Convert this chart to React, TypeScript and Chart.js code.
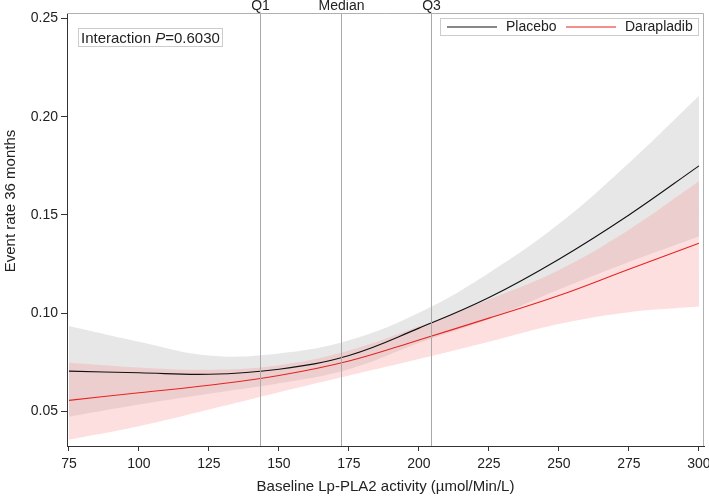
import React, { useEffect, useRef } from "react";
import { Chart, registerables } from "chart.js";

Chart.register(...registerables);

// ---- data ----
const xValues = [75, 100, 125, 150, 175, 200, 225, 250, 275, 300];
const placeboRate = [0.0705, 0.0697, 0.0689, 0.0715, 0.0785, 0.0924, 0.108, 0.1275, 0.15, 0.175];
const placeboUpper = [0.0935, 0.0855, 0.0785, 0.0795, 0.0862, 0.1002, 0.1205, 0.1455, 0.1765, 0.2107];
const placeboLower = [0.0473, 0.0535, 0.059, 0.0643, 0.0715, 0.0848, 0.097, 0.112, 0.126, 0.139];
const daraRate = [0.0556, 0.0595, 0.0633, 0.0683, 0.0757, 0.0864, 0.0975, 0.109, 0.1224, 0.1356];
const daraUpper = [0.0748, 0.0724, 0.0712, 0.0735, 0.081, 0.0933, 0.107, 0.122, 0.1425, 0.1671];
const daraLower = [0.0357, 0.0425, 0.051, 0.0598, 0.0683, 0.0767, 0.0855, 0.0945, 0.1005, 0.1034];

const quartileValues = [143.2, 172.3, 204.2];
const quartileLabels = ["Q1", "Median", "Q3"];

const xTicks = [75, 100, 125, 150, 175, 200, 225, 250, 275, 300];
const yTicks = [0.05, 0.1, 0.15, 0.2, 0.25];

const seriesNames = ["Placebo", "Darapladib"];
const interactionP = "0.6030";

const FONT = "'Liberation Sans', Arial, Helvetica, sans-serif";

const toPts = (ys: number[]) => xValues.map((x, i) => ({ x, y: ys[i] }));

const overlayPlugin = {
  id: "overlay",
  afterDatasetsDraw(chart: any) {
    const { ctx, chartArea: a, scales } = chart;
    const x = scales.x;
    ctx.save();
    // quartile lines + labels
    ctx.strokeStyle = "#a8a8a8";
    ctx.lineWidth = 1;
    ctx.fillStyle = "#222";
    ctx.font = `14px ${FONT}`;
    ctx.textAlign = "center";
    ctx.textBaseline = "alphabetic";
    quartileValues.forEach((v, i) => {
      const px = Math.round(x.getPixelForValue(v)) + 0.5;
      ctx.beginPath();
      ctx.moveTo(px, a.top);
      ctx.lineTo(px, a.bottom);
      ctx.stroke();
      ctx.fillText(quartileLabels[i], px, a.top - 3);
    });
    // top & right frame
    ctx.strokeStyle = "#b0b0b0";
    ctx.beginPath();
    ctx.moveTo(a.left, a.top + 0.5);
    ctx.lineTo(a.right - 0.5, a.top + 0.5);
    ctx.lineTo(a.right - 0.5, a.bottom);
    ctx.stroke();

    // interaction box
    ctx.fillStyle = "#fff";
    ctx.strokeStyle = "#cccccc";
    ctx.fillRect(78.5, 28.5, 144, 18);
    ctx.strokeRect(78.5, 28.5, 144, 18);
    ctx.fillStyle = "#222";
    ctx.textAlign = "left";
    let tx = 81;
    const ty = 43;
    ctx.font = `15px ${FONT}`;
    const s1 = "Interaction ";
    ctx.fillText(s1, tx, ty);
    tx += ctx.measureText(s1).width;
    ctx.font = `italic 15px ${FONT}`;
    ctx.fillText("P", tx, ty);
    tx += ctx.measureText("P").width;
    ctx.font = `15px ${FONT}`;
    ctx.fillText("=" + interactionP, tx, ty);

    // legend box
    const lx = 440.5, ly = 18.5, lw = 258, lh = 17;
    ctx.fillStyle = "#fff";
    ctx.fillRect(lx, ly, lw, lh);
    ctx.strokeStyle = "#cccccc";
    ctx.strokeRect(lx, ly, lw, lh);
    const items = [
      { name: seriesNames[0], color: "#111111", x0: 447 },
      { name: seriesNames[1], color: "#e8231f", x0: 566 },
    ];
    ctx.font = `14px ${FONT}`;
    ctx.textBaseline = "middle";
    items.forEach((it) => {
      ctx.strokeStyle = it.color;
      ctx.lineWidth = 1.2;
      ctx.beginPath();
      ctx.moveTo(it.x0, 27);
      ctx.lineTo(it.x0 + 50, 27);
      ctx.stroke();
      ctx.fillStyle = "#222";
      ctx.fillText(it.name, it.x0 + 59, 27.5);
    });

    // y axis title
    ctx.save();
    ctx.translate(11, 201);
    ctx.rotate(-Math.PI / 2);
    ctx.textAlign = "center";
    ctx.textBaseline = "middle";
    ctx.font = `15px ${FONT}`;
    ctx.fillStyle = "#222";
    ctx.fillText("Event rate 36 months", 0, 0);
    ctx.restore();

    ctx.restore();
  },
};

export default function App() {
  const ref = useRef<HTMLCanvasElement | null>(null);

  useEffect(() => {
    document.body.style.margin = "0";
    if (!ref.current) return;
    const common = {
      pointRadius: 0,
      tension: 0.4,
    };
    const chart = new Chart(ref.current, {
      type: "line",
      data: {
        datasets: [
          { ...common, label: seriesNames[0], data: toPts(placeboRate), borderColor: "#111", borderWidth: 1.1, fill: false },
          { ...common, label: seriesNames[1], data: toPts(daraRate), borderColor: "#e8231f", borderWidth: 1.1, fill: false },
          { ...common, label: "Darapladib upper", data: toPts(daraUpper), borderWidth: 0, borderColor: "rgba(0,0,0,0)", backgroundColor: "rgba(250,150,150,0.3)", fill: "+1" },
          { ...common, label: "Darapladib lower", data: toPts(daraLower), borderWidth: 0, borderColor: "rgba(0,0,0,0)", fill: false },
          { ...common, label: "Placebo upper", data: toPts(placeboUpper), borderWidth: 0, borderColor: "rgba(0,0,0,0)", backgroundColor: "rgba(195,195,195,0.4)", fill: "+1" },
          { ...common, label: "Placebo lower", data: toPts(placeboLower), borderWidth: 0, borderColor: "rgba(0,0,0,0)", fill: false },
        ],
      },
      options: {
        animation: false,
        responsive: false,
        maintainAspectRatio: false,
        devicePixelRatio: 1,
        layout: { padding: { left: 0, top: 13, right: 5, bottom: 0 } },
        plugins: {
          legend: { display: false },
          tooltip: { enabled: false },
        },
        scales: {
          x: {
            type: "linear",
            min: 74.3,
            max: 301.8,
            afterFit: (axis: any) => { axis.height = 53; axis.paddingLeft = 0; axis.paddingRight = 0; },
            afterBuildTicks: (axis: any) => { axis.ticks = xTicks.map((v) => ({ value: v })); },
            border: { display: true, color: "#333", width: 1 },
            grid: { display: true, drawOnChartArea: false, drawTicks: true, tickLength: 5, color: "#333" },
            ticks: {
              color: "#222",
              font: { family: FONT, size: 14 },
              padding: 5,
              maxRotation: 0,
              autoSkip: false,
              callback: (v: any) => String(v),
            },
            title: {
              display: true,
              text: "Baseline Lp-PLA2 activity (µmol/Min/L)",
              color: "#222",
              font: { family: FONT, size: 15 },
              padding: { top: 0, bottom: 3 },
            },
          },
          y: {
            type: "linear",
            min: 0.0324,
            max: 0.2528,
            afterFit: (axis: any) => { axis.width = 67; axis.paddingTop = 0; axis.paddingBottom = 0; },
            afterBuildTicks: (axis: any) => { axis.ticks = yTicks.map((v) => ({ value: v })); },
            border: { display: true, color: "#333", width: 1 },
            grid: { display: true, drawOnChartArea: false, drawTicks: true, tickLength: 6, color: "#333" },
            ticks: {
              color: "#222",
              font: { family: FONT, size: 14 },
              padding: 3,
              autoSkip: false,
              callback: (v: any) => Number(v).toFixed(2),
            },
          },
        },
      },
      plugins: [overlayPlugin],
    });
    return () => chart.destroy();
  }, []);

  return (
    <div style={{ position: "absolute", left: 0, top: 0, width: 709, height: 499, background: "#fff" }}>
      <canvas ref={ref} width={709} height={499} style={{ width: 709, height: 499 }} />
    </div>
  );
}
